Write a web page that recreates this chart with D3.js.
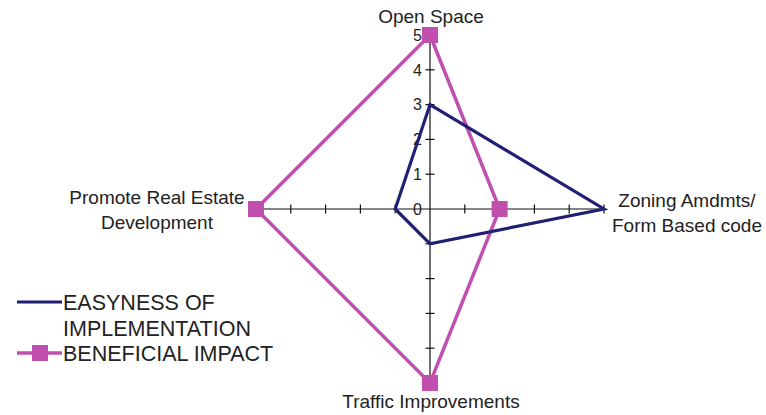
<!DOCTYPE html>
<html>
<head>
<meta charset="utf-8">
<script src="https://cdn.jsdelivr.net/npm/d3@7"></script>
<style>
    body { margin: 0; background: #fff; }
    svg text { font-family: "Liberation Sans", Arial, sans-serif; fill: #222; }
</style>
</head>
<body>
<svg id="chart" width="766" height="415"></svg>
<script>
'use strict';

var axes = [ 'Open Space', 'Zoning Amdmts/ Form Based code', 'Traffic Improvements', 'Promote Real Estate Development' ];
var easyness = [ 3, 5, 1, 1 ];
var beneficial = [ 5, 2, 5, 5 ];
var tickValues = [ 0, 1, 2, 3, 4, 5 ];

var navy = '#1f1f74',
    pink = '#c04fae';

var svg = d3.select( '#chart' ),
    cx = 430,
    cy = 209;

var r = d3.scaleLinear().domain( [ 0, 5 ] ).range( [ 0, 174 ] );

// axes go top, right, bottom, left
var angle = d3.scaleOrdinal().domain( axes ).range( [ -Math.PI / 2, 0, Math.PI / 2, Math.PI ] );

function pt( axis, v ){
    var a = angle( axis );
    return [ cx + Math.cos( a ) * r( v ), cy + Math.sin( a ) * r( v ) ];
}

var g = svg.append( 'g' );

// spokes
g.selectAll( 'line.spoke' ).data( axes ).enter().append( 'line' )
    .attr( 'class', 'spoke' )
    .attr( 'x1', cx ).attr( 'y1', cy )
    .attr( 'x2', function( d ){ return pt( d, 5 )[0]; } )
    .attr( 'y2', function( d ){ return pt( d, 5 )[1]; } )
    .attr( 'stroke', '#111' ).attr( 'stroke-width', 1.2 );

// tick crosses on every spoke
axes.forEach(function( axis ){
    var a = angle( axis ),
        px = -Math.sin( a ) * 4.5,
        py = Math.cos( a ) * 4.5;
    g.selectAll( null ).data( tickValues.slice( 1 ) ).enter().append( 'line' )
        .attr( 'x1', function( v ){ return pt( axis, v )[0] - px; } )
        .attr( 'y1', function( v ){ return pt( axis, v )[1] - py; } )
        .attr( 'x2', function( v ){ return pt( axis, v )[0] + px; } )
        .attr( 'y2', function( v ){ return pt( axis, v )[1] + py; } )
        .attr( 'stroke', '#111' ).attr( 'stroke-width', 1.2 );
});

// value labels on the top spoke
g.selectAll( 'text.tick' ).data( tickValues ).enter().append( 'text' )
    .attr( 'class', 'tick' )
    .attr( 'x', cx - 8 )
    .attr( 'y', function( v ){ return pt( axes[0], v )[1]; } )
    .attr( 'dy', '0.36em' )
    .attr( 'text-anchor', 'end' )
    .style( 'font-size', '16px' )
    .text( function( v ){ return v; } );

var line = d3.line().curve( d3.curveLinearClosed );

function series( values, color, width ){
    var pts = axes.map(function( a, i ){ return pt( a, values[i] ); });
    g.append( 'path' )
        .attr( 'd', line( pts ) )
        .attr( 'fill', 'none' )
        .attr( 'stroke', color )
        .attr( 'stroke-width', width )
        .attr( 'stroke-linejoin', 'miter' );
    return pts;
}

var pinkPts = series( beneficial, pink, 3.5 );
series( easyness, navy, 3.2 );

g.selectAll( 'rect.mark' ).data( pinkPts ).enter().append( 'rect' )
    .attr( 'class', 'mark' )
    .attr( 'x', function( d ){ return d[0] - 8; } )
    .attr( 'y', function( d ){ return d[1] - 8; } )
    .attr( 'width', 16 ).attr( 'height', 16 )
    .attr( 'fill', pink );

// category labels
var labelPos = [
    { x: 431, y: 23, lines: [ 'Open Space' ] },
    { x: 687, y: 207, lines: [ 'Zoning Amdmts/', 'Form Based code' ] },
    { x: 431, y: 408, lines: [ 'Traffic Improvements' ] },
    { x: 157, y: 204, lines: [ 'Promote Real Estate', 'Development' ] }
];

svg.selectAll( 'text.cat' ).data( labelPos ).enter().append( 'text' )
    .attr( 'class', 'cat' )
    .attr( 'text-anchor', 'middle' )
    .style( 'font-size', '19px' )
    .each(function( d ){
        d3.select( this ).selectAll( 'tspan' ).data( d.lines ).enter().append( 'tspan' )
            .attr( 'x', d.x )
            .attr( 'y', function( l, i ){ return d.y + i * 25; } )
            .text( function( l ){ return l; } );
    });

// legend
var legend = svg.append( 'g' );
legend.append( 'line' )
    .attr( 'x1', 17 ).attr( 'x2', 62 ).attr( 'y1', 302 ).attr( 'y2', 302 )
    .attr( 'stroke', navy ).attr( 'stroke-width', 3.2 );
legend.append( 'line' )
    .attr( 'x1', 17 ).attr( 'x2', 62 ).attr( 'y1', 353 ).attr( 'y2', 353 )
    .attr( 'stroke', pink ).attr( 'stroke-width', 3.5 );
legend.append( 'rect' )
    .attr( 'x', 32 ).attr( 'y', 345 ).attr( 'width', 16 ).attr( 'height', 16 )
    .attr( 'fill', pink );

var legendText = [
    { y: 310, t: 'EASYNESS OF' },
    { y: 336, t: 'IMPLEMENTATION' },
    { y: 361, t: 'BENEFICIAL IMPACT' }
];
legend.selectAll( 'text' ).data( legendText ).enter().append( 'text' )
    .attr( 'x', 63 )
    .attr( 'y', function( d ){ return d.y; } )
    .style( 'font-size', '21.5px' )
    .text( function( d ){ return d.t; } );
</script>
</body>
</html>
